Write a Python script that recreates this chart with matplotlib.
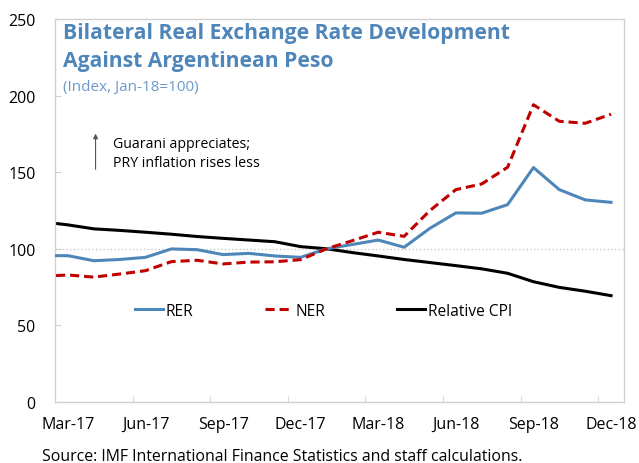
import matplotlib
matplotlib.use('agg')
import matplotlib.pyplot as plt
import numpy as np

plt.rcParams['font.family'] = ['Open Sans', 'DejaVu Sans']

# months: index -1 = Feb-17 (clipped at the left edge), 0 = Mar-17 ... 21 = Dec-18
months = np.arange(-1, 22)
rer = [95.5, 95.5, 92.2, 93.0, 94.4, 99.9, 99.4, 96.2, 97.0, 95.3, 94.4, 100.0,
       102.8, 105.7, 101.0, 113.4, 123.4, 123.2, 128.8, 153.0, 138.6, 131.9, 130.3]
ner = [82.0, 82.9, 81.5, 83.5, 85.7, 91.6, 92.5, 90.1, 91.3, 91.5, 92.9, 100.0,
       105.3, 110.8, 108.1, 125.0, 138.6, 142.3, 153.2, 194.0, 183.2, 181.9, 187.8]
cpi = [117.6, 115.6, 113.0, 112.0, 110.8, 109.5, 108.0, 106.8, 105.7, 104.6, 101.4, 100.0,
       97.5, 95.3, 93.0, 91.0, 89.0, 86.9, 84.0, 78.5, 74.8, 72.3, 69.4]

tick_pos = [0, 3, 6, 9, 12, 15, 18, 21]
tick_lab = ['Mar-17', 'Jun-17', 'Sep-17', 'Dec-17', 'Mar-18', 'Jun-18', 'Sep-18', 'Dec-18']

blue = '#4f86b9'
red = '#c00000'
grey = '#d0d0d0'

fig = plt.figure(figsize=(6.39, 4.64), dpi=100)
ax = fig.add_axes([0.086, 0.1315, 0.8905, 0.8255])

ax.axhline(100, color='#c8c8c8', lw=1, ls=':', zorder=1)
ax.plot(months, rer, color=blue, lw=2.2, label='RER', zorder=3)
ax.plot(months, ner, color=red, lw=2.2, ls=(0, (3, 1.6)), label='NER', zorder=4)
ax.plot(months, cpi, color='black', lw=2.2, label='Relative CPI', zorder=2)

ax.set_xlim(-0.5, 21.5)
ax.set_ylim(0, 250)
ax.set_yticks(np.arange(0, 251, 50))
ax.set_xticks(tick_pos)
ax.set_xticklabels(tick_lab)
ax.set_xticks(np.arange(-0.5, 21, 3), minor=True)
ax.tick_params(axis='x', which='major', length=0, pad=10, labelsize=11.5)
ax.tick_params(axis='x', which='minor', direction='in', length=4, color=grey)
ax.tick_params(axis='y', direction='in', length=4, color=grey, pad=14, labelsize=11.5)
for s in ax.spines.values():
    s.set_color(grey)
    s.set_linewidth(1)

ax.legend(loc='center', bbox_to_anchor=(0.472, 0.238), ncol=3, frameon=False,
          fontsize=11.2, handlelength=1.8, handletextpad=0.2, columnspacing=4.6)

# title block
fig.text(63/639, 1-33/464, 'Bilateral Real Exchange Rate Development',
         color=blue, fontsize=15.2, fontweight='bold', va='center')
fig.text(63/639, 1-62/464, 'Against Argentinean Peso',
         color=blue, fontsize=15.2, fontweight='bold', va='center')
fig.text(63/639, 1-88/464, '(Index, Jan-18=100)', color='#6a9acb', fontsize=11, va='center')

ax.annotate('', xy=(1.07, 177), xytext=(1.07, 150),
            arrowprops=dict(arrowstyle='-|>', color='#555555', lw=0.8, mutation_scale=7))
ax.text(1.74, 162.5, 'Guarani appreciates;\nPRY inflation rises less', fontsize=10.2,
        va='center', ha='left', linespacing=1.4)

fig.text(42/639, 1-457/464, 'Source: IMF International Finance Statistics and staff calculations.',
         fontsize=11.4, va='center')

fig.savefig('out.png', dpi=100)
